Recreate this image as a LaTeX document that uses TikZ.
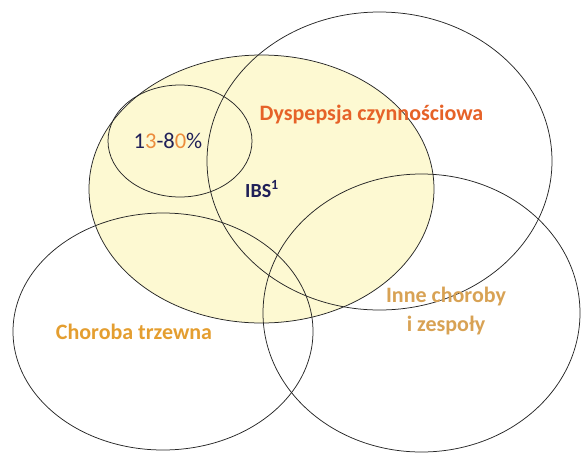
\documentclass[tikz,border=0pt]{standalone}
\usepackage{fontspec}
\setmainfont{Carlito}
\usepackage{tikz}
\usetikzlibrary{positioning}

\definecolor{ibsfill}{RGB}{253,249,210}
\definecolor{navytext}{RGB}{32,32,88}
\definecolor{redorange}{RGB}{230,98,40}
\definecolor{goldtext}{RGB}{228,158,48}
\definecolor{tantext}{RGB}{216,162,84}
\definecolor{pctorange}{RGB}{236,140,60}

\begin{document}
\begin{tikzpicture}[
    x=1pt, y=-1pt,
    % Define styles for the sets and their labels
    setline/.style={draw=black!85, line width=0.75pt},
    setlabel/.style={font=\fontsize{22}{29}\selectfont\bfseries, inner sep=0pt, align=center}
]
\useasboundingbox (0,0) rectangle (582,456);

% --- Sets ---

% IBS (filled)
\fill[ibsfill] (261.5,189) ellipse [x radius=172.5, y radius=134];

% Outlines
\draw[setline] (261.5,189) ellipse [x radius=172.5, y radius=134];
\draw[setline] (180,141) ellipse [x radius=72, y radius=56];
\draw[setline] (379.5,161) ellipse [x radius=172.5, y radius=149];
\draw[setline] (163,331.5) ellipse [x radius=150, y radius=118.5];
\draw[setline] (421.5,313) ellipse [x radius=158.5, y radius=139];

% --- Labels ---
\node[inner sep=0pt, font=\fontsize{22.5}{27}\selectfont] (pct) at (168,141)
    {\textcolor{navytext}{1}\textcolor{pctorange}{3}\textcolor{navytext}{-8}\textcolor{pctorange}{0}\textcolor{navytext}{\%}};
\node[setlabel, text=navytext, font=\fontsize{20}{24}\selectfont\bfseries] (ibs) at (262,189) {IBS\textsuperscript{1}};
\node[setlabel, text=redorange] (fd) at (371.5,115) {Dyspepsja czynnościowa};
\node[setlabel, text=goldtext] (celiac) at (134,332) {Choroba trzewna};
\node[setlabel, text=tantext] (other) at (446,311) {Inne choroby\\i zespoły};

\end{tikzpicture}
\end{document}
